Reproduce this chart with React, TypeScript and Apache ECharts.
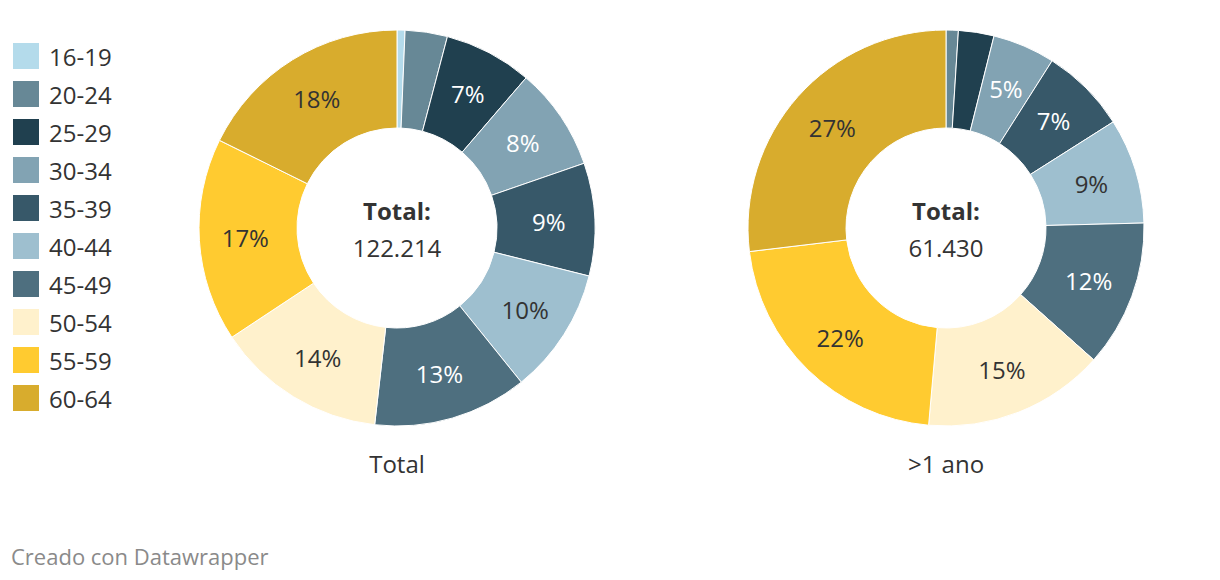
import React, { useEffect, useRef } from "react";
import * as echarts from "echarts";

const categories = ["16-19", "20-24", "25-29", "30-34", "35-39", "40-44", "45-49", "50-54", "55-59", "60-64"];
const colors = ["#b4dbeb", "#678896", "#20404f", "#82a3b3", "#375869", "#9ebfcf", "#4e6f7f", "#fff1cc", "#ffcb30", "#d8ac2d"];
const labelColors = ["#333333", "#ffffff", "#ffffff", "#ffffff", "#ffffff", "#333333", "#ffffff", "#333333", "#333333", "#333333"];
const totalValues = [0.65, 3.45, 7.2, 8.4, 9.2, 10.3, 12.6, 13.9, 16.6, 17.7];
const overOneYearValues = [0, 1.0, 2.9, 5.1, 7.0, 8.6, 12.0, 14.8, 21.7, 26.9];
const chartTitles = ["Total", ">1 ano"];
const centerTotals = ["122.214", "61.430"];

const FONT = "'Open Sans', 'Noto Sans', sans-serif";

export default function App() {
  const ref = useRef<HTMLDivElement>(null);
  useEffect(() => {
    document.body.style.margin = "0";
    const chart = echarts.init(ref.current!, null, { renderer: "svg" });
    const centers = [397, 946];
    const mk = (vals: number[]) =>
      vals.map((v, i) => ({
        name: categories[i],
        value: v,
        itemStyle: { color: colors[i] },
        label: { show: v >= 4, color: labelColors[i] },
      }));
    const series = [totalValues, overOneYearValues].map((vals, k) => ({
      type: "pie",
      center: [centers[k], 228],
      radius: [100, 198],
      startAngle: 90,
      clockwise: true,
      avoidLabelOverlap: false,
      itemStyle: { borderColor: "#ffffff", borderWidth: 1 },
      label: {
        position: "inside",
        fontFamily: FONT,
        fontSize: 24,
        formatter: (p: any) => Math.round(p.value) + "%",
      },
      labelLine: { show: false },
      emphasis: { disabled: true },
      data: mk(vals),
    }));
    const texts: any[] = [];
    centers.forEach((cx, k) => {
      texts.push({
        type: "text",
        x: cx,
        y: 210,
        style: { text: "Total:", fontFamily: FONT, fontSize: 24, fontWeight: "bold", fill: "#333333", textAlign: "center", textVerticalAlign: "middle" },
      });
      texts.push({
        type: "text",
        x: cx,
        y: 247,
        style: { text: centerTotals[k], fontFamily: FONT, fontSize: 24, fill: "#333333", textAlign: "center", textVerticalAlign: "middle" },
      });
      texts.push({
        type: "text",
        x: cx,
        y: 463,
        style: { text: chartTitles[k], fontFamily: FONT, fontSize: 24, fill: "#333333", textAlign: "center", textVerticalAlign: "middle" },
      });
    });
    texts.push({
      type: "text",
      x: 11,
      y: 556,
      style: { text: "Creado con Datawrapper", fontFamily: FONT, fontSize: 22, fill: "#8a8a8a", textAlign: "left", textVerticalAlign: "middle" },
    });
    chart.setOption({
      animation: false,
      legend: {
        orient: "vertical",
        left: 11,
        top: 41,
        padding: 0,
        itemWidth: 28,
        itemHeight: 28,
        itemGap: 8,
        icon: "rect",
        selectedMode: false,
        data: categories,
        textStyle: { fontFamily: FONT, fontSize: 24, color: "#333333", padding: [0, 0, 0, 4] },
      },
      series,
      graphic: texts,
    });
    return () => chart.dispose();
  }, []);
  return <div ref={ref} style={{ width: 1220, height: 580 }} />;
}
